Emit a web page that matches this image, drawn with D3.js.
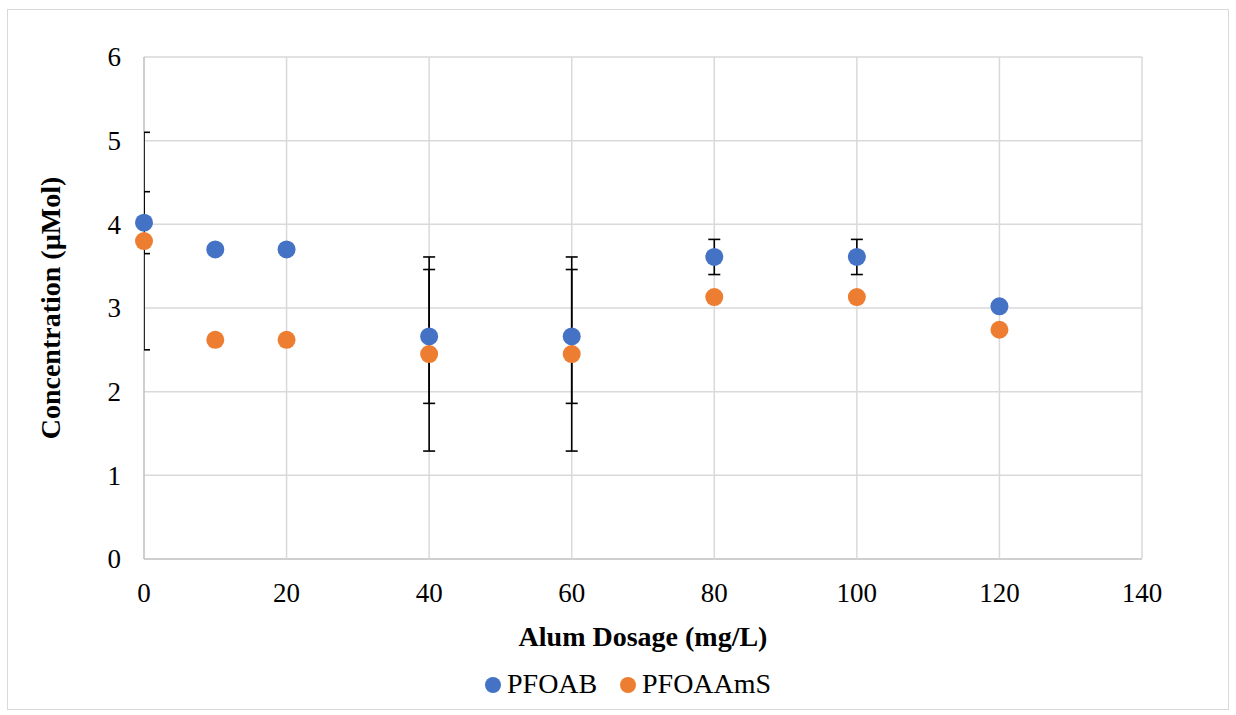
<!DOCTYPE html>
<html>
<head>
<meta charset="utf-8">
<script src="https://cdn.jsdelivr.net/npm/d3@7"></script>
<style>
  body { margin: 0; background: #fff; }
  svg { display: block; }
  text { font-family: "Liberation Serif", "Times New Roman", serif; fill: #000; }
</style>
</head>
<body>
<svg id="chart" width="1236" height="715"></svg>
<script>
// alum dosage (mg/L)
const dosage = [0, 10, 20, 40, 60, 80, 100, 120];
const pfoab = [4.02, 3.70, 3.70, 2.66, 2.66, 3.61, 3.61, 3.02];
const pfoabErr = [0.37, 0, 0, 0.80, 0.80, 0.21, 0.21, 0];
const pfoaams = [3.80, 2.62, 2.62, 2.45, 2.45, 3.13, 3.13, 2.74];
const pfoaamsErr = [1.30, 0, 0, 1.16, 1.16, 0, 0, 0];
const xTicks = [0, 20, 40, 60, 80, 100, 120, 140];
const yTicks = [0, 1, 2, 3, 4, 5, 6];
const seriesNames = ['PFOAB', 'PFOAAmS'];
const colors = ['#4472c4', '#ed7d31'];

const svg = d3.select('#chart');
const plot = {left: 144, right: 1142, top: 57, bottom: 559};

const x = d3.scaleLinear().domain([0, 140]).range([plot.left, plot.right]);
const y = d3.scaleLinear().domain([0, 6]).range([plot.bottom, plot.top]);

// outer chart border
svg.append('rect')
    .attr('x', 7.5).attr('y', 9.5)
    .attr('width', 1221).attr('height', 700)
    .attr('fill', 'none').attr('stroke', '#d9d9d9').attr('stroke-width', 1);

svg.append('clipPath').attr('id', 'plotClip')
    .append('rect')
    .attr('x', plot.left).attr('y', plot.top)
    .attr('width', plot.right - plot.left).attr('height', plot.bottom - plot.top);

// grid lines
svg.append('g').selectAll('line').data(yTicks).join('line')
    .attr('x1', plot.left).attr('x2', plot.right)
    .attr('y1', d => y(d)).attr('y2', d => y(d))
    .attr('stroke', d => d == 0 ? '#bfbfbf' : '#d9d9d9').attr('stroke-width', 1.5);
svg.append('g').selectAll('line').data(xTicks).join('line')
    .attr('x1', d => x(d)).attr('x2', d => x(d))
    .attr('y1', plot.top).attr('y2', plot.bottom)
    .attr('stroke', d => d == 0 ? '#bfbfbf' : '#d9d9d9').attr('stroke-width', 1.5);

// tick labels
svg.append('g').selectAll('text').data(yTicks).join('text')
    .attr('x', 121).attr('y', d => y(d))
    .attr('dy', '0.34em')
    .attr('text-anchor', 'end')
    .style('font-size', '27px')
    .text(d => d);
svg.append('g').selectAll('text').data(xTicks).join('text')
    .attr('x', d => x(d)).attr('y', 602)
    .attr('text-anchor', 'middle')
    .style('font-size', '27px')
    .text(d => d);

// axis titles
svg.append('text')
    .attr('x', (plot.left + plot.right) / 2).attr('y', 646)
    .attr('text-anchor', 'middle')
    .style('font-size', '28px').style('font-weight', 'bold')
    .text('Alum Dosage (mg/L)');
svg.append('text')
    .attr('transform', 'translate(60,' + ((plot.top + plot.bottom) / 2) + ') rotate(-90)')
    .attr('text-anchor', 'middle')
    .style('font-size', '28px').style('font-weight', 'bold')
    .text('Concentration (\u00b5Mol)');

// error bars, then markers on top
const series = [
    {vals: pfoab, err: pfoabErr},
    {vals: pfoaams, err: pfoaamsErr}
];
const errG = svg.append('g').attr('clip-path', 'url(#plotClip)');
series.forEach(function(s) {
    let pts = dosage.map((d, i) => ({x: d, v: s.vals[i], e: s.err[i]})).filter(p => p.e > 0);
    let g = errG.selectAll(null).data(pts).enter().append('g')
        .attr('stroke', '#000').attr('stroke-width', 1.6);
    g.append('line')
        .attr('x1', p => x(p.x)).attr('x2', p => x(p.x))
        .attr('y1', p => y(p.v + p.e)).attr('y2', p => y(p.v - p.e));
    g.append('line')
        .attr('x1', p => x(p.x) - 6).attr('x2', p => x(p.x) + 6)
        .attr('y1', p => y(p.v + p.e)).attr('y2', p => y(p.v + p.e));
    g.append('line')
        .attr('x1', p => x(p.x) - 6).attr('x2', p => x(p.x) + 6)
        .attr('y1', p => y(p.v - p.e)).attr('y2', p => y(p.v - p.e));
});
series.forEach(function(s, k) {
    svg.append('g').selectAll('circle').data(s.vals).join('circle')
        .attr('cx', (d, i) => x(dosage[i]))
        .attr('cy', d => y(d))
        .attr('r', 9)
        .attr('fill', colors[k]);
});

// legend
const legendX = [493, 628];
seriesNames.forEach(function(name, k) {
    svg.append('circle')
        .attr('cx', legendX[k]).attr('cy', 685).attr('r', 8)
        .attr('fill', colors[k]);
    svg.append('text')
        .attr('x', legendX[k] + 14).attr('y', 693)
        .style('font-size', '28px')
        .text(name);
});
</script>
</body>
</html>
